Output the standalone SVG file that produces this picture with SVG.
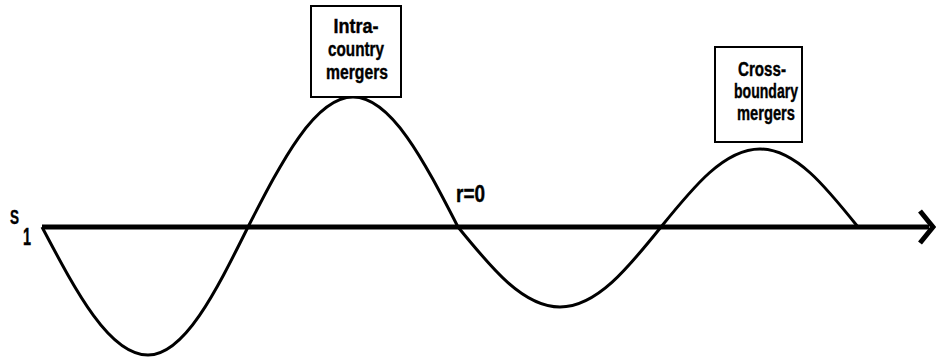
<svg xmlns="http://www.w3.org/2000/svg" width="936" height="360" viewBox="0 0 936 360">
<style>
.box{fill:#fff;stroke:#000;stroke-width:2}
.lbl{font-family:"Liberation Sans",Arial,sans-serif;font-weight:bold;font-size:20px;fill:#000;stroke:#000;stroke-width:0.4;text-anchor:middle}
.t{font-family:"Liberation Sans",Arial,sans-serif;font-weight:bold;fill:#000;stroke:#000;stroke-width:0.4}
.ax{stroke:#000;stroke-width:5;fill:none}
.wave{stroke:#000;stroke-width:3;fill:none}
</style>
<rect width="936" height="360" fill="#fff"/>
<g id="connectors">
<path class="wave" d="M42,227 C76.6,292.6 109.6,355 148,355 C184.2,355 215.4,292.6 248,227 C282.2,160.4 315,97 353,97 C391,97 423.8,160.4 458,227 C491.3,268 523.1,307 560,307 C596.6,307 628.1,268 661,227 C693.3,187 724.2,149 760,149 C795.5,149 826,187 858,227"/>
<line class="ax" x1="42" y1="227" x2="929" y2="227"/>
<polyline class="ax" stroke-width="4.5" points="920,211 933,227 920,243"/>
</g>
<g id="node-intra">
<rect class="box" x="311" y="6" width="90" height="91"/>
<text class="lbl" x="356" y="33" textLength="45" lengthAdjust="spacingAndGlyphs">Intra-</text>
<text class="lbl" x="356" y="56" textLength="56" lengthAdjust="spacingAndGlyphs">country</text>
<text class="lbl" x="357" y="79" textLength="62" lengthAdjust="spacingAndGlyphs">mergers</text>
</g>
<g id="node-cross">
<rect class="box" x="715" y="47" width="87" height="95"/>
<text class="lbl" x="762" y="76" textLength="48" lengthAdjust="spacingAndGlyphs">Cross-</text>
<text class="lbl" x="766" y="98" textLength="64" lengthAdjust="spacingAndGlyphs">boundary</text>
<text class="lbl" x="766" y="120" textLength="58" lengthAdjust="spacingAndGlyphs">mergers</text>
</g>
<g id="label-s1">
<text class="t" x="10" y="224" font-size="20" textLength="9" lengthAdjust="spacingAndGlyphs">S</text>
<text class="t" x="23" y="245" font-size="23" textLength="8" lengthAdjust="spacingAndGlyphs">1</text>
</g>
<g id="label-r0">
<text class="t" x="456" y="202" font-size="23" textLength="29" lengthAdjust="spacingAndGlyphs">r=0</text>
</g>
</svg>
